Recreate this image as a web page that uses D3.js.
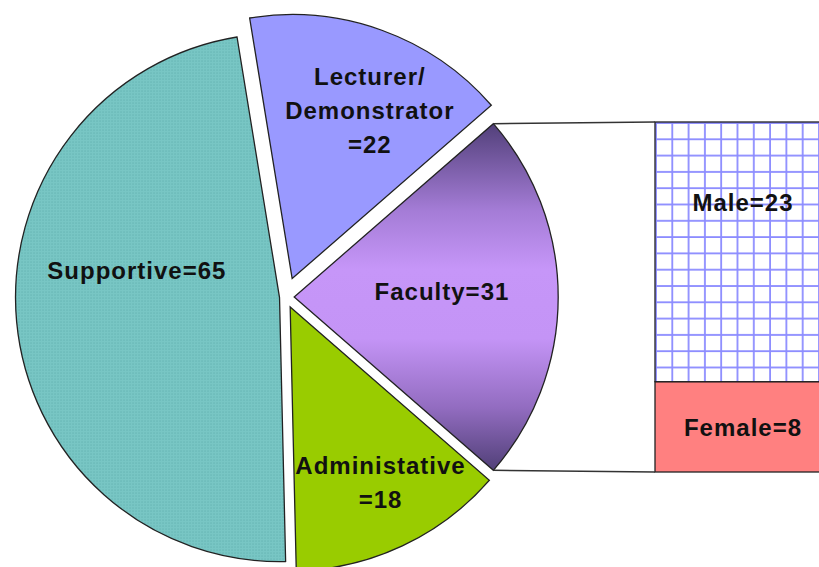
<!DOCTYPE html>
<html>
<head>
<meta charset="utf-8">
<script src="https://cdn.jsdelivr.net/npm/d3@7"></script>
<style>
  body { margin: 0; background: #fff; }
  svg { display: block; }
  .lbl { font-family: "Liberation Sans", Arial, sans-serif; font-weight: bold; font-size: 24px; letter-spacing: 1px; fill: #111; }
</style>
</head>
<body>
<svg class="chart"></svg>
<script>
// pie slices, clockwise starting with the split-out slice ("|" = line break in label)
var sliceNames = ["Faculty", "Administative|", "Supportive", "Lecturer/|Demonstrator|"];
var sliceValues = [31, 18, 65, 22];
// breakdown of the Faculty slice
var barNames = ["Female", "Male"];
var barValues = [8, 23];

var width = 819, height = 567;
var cx = 285.5, cy = 297, radius = 264;

var sliceFill = ["url(#facGrad)", "#99cc00", "url(#dots)", "#9999ff"];
var explode = [8.7, 11, 6, 19.6];
// label placement: fraction of radius, angle shift in degrees
var labelPos = [[0.56, -2], [0.75, -2], [0.55, 16], [0.70, 5]];

var svg = d3.select(".chart").attr("width", width).attr("height", height);
var defs = svg.append("defs");

var grad = defs.append("linearGradient").attr("id", "facGrad")
    .attr("x1", 0).attr("y1", 0).attr("x2", 0).attr("y2", 1);
[[0, "#52407a"], [0.25, "#a47cd6"], [0.42, "#c696f8"], [0.62, "#c494f6"], [0.82, "#926cc0"], [1, "#514078"]]
    .forEach(function(s) { grad.append("stop").attr("offset", s[0]).attr("stop-color", s[1]); });

var dots = defs.append("pattern").attr("id", "dots").attr("patternUnits", "userSpaceOnUse")
    .attr("width", 3).attr("height", 3);
dots.append("rect").attr("width", 3).attr("height", 3).attr("fill", "#78c6c4");
dots.append("rect").attr("width", 1).attr("height", 1).attr("fill", "#5aa9a8");

var facTotal = d3.sum(sliceValues);
var facAngle = sliceValues[0] / facTotal * 2 * Math.PI;
var startA = Math.PI / 2 - facAngle / 2;

var pie = d3.pie().sort(null).startAngle(startA).endAngle(startA + 2 * Math.PI);
var arcs = pie(sliceValues);
var arc = d3.arc().innerRadius(0).outerRadius(radius);

function apex(d, i) {
    var mid = (d.startAngle + d.endAngle) / 2;
    return [cx + explode[i] * Math.sin(mid), cy - explode[i] * Math.cos(mid)];
}

var slices = svg.append("g").selectAll("g").data(arcs).enter().append("g")
    .attr("transform", function(d, i) { return "translate(" + apex(d, i) + ")"; });

slices.append("path")
    .attr("d", arc)
    .attr("fill", function(d, i) { return sliceFill[i]; })
    .attr("stroke", "#222")
    .attr("stroke-width", 1.3);

slices.each(function(d, i) {
    var mid = (d.startAngle + d.endAngle) / 2 + labelPos[i][1] * Math.PI / 180;
    var r = labelPos[i][0] * radius;
    var lines = (sliceNames[i] + "=" + sliceValues[i]).split("|");
    var t = d3.select(this).append("text").attr("class", "lbl")
        .attr("text-anchor", "middle")
        .attr("transform", "translate(" + (r * Math.sin(mid)) + "," + (-r * Math.cos(mid)) + ")");
    lines.forEach(function(l, j) {
        t.append("tspan").attr("x", 0)
            .attr("y", (j - (lines.length - 1) / 2) * 34 + 8)
            .text(l);
    });
});

// bar of the Faculty slice
var barX = 655, barW = 180;
var y = d3.scaleLinear().domain([0, d3.sum(barValues)]).range([472, 122]);

var grid = defs.append("pattern").attr("id", "grid").attr("patternUnits", "userSpaceOnUse")
    .attr("x", barX).attr("y", 122).attr("width", 16.3).attr("height", 16.3);
grid.append("rect").attr("width", 16.3).attr("height", 16.3).attr("fill", "#fff");
grid.append("line").attr("x1", 1).attr("x2", 1).attr("y1", 0).attr("y2", 16.3)
    .attr("stroke", "#8c8cff").attr("stroke-width", 1.8);
grid.append("line").attr("y1", 1).attr("y2", 1).attr("x1", 0).attr("x2", 16.3)
    .attr("stroke", "#8c8cff").attr("stroke-width", 1.8);

var barFill = ["#ff8080", "url(#grid)"];
var stack = [];
var acc = 0;
barValues.forEach(function(v, i) { stack.push({name: barNames[i], value: v, y0: acc, y1: acc + v}); acc += v; });

var bars = svg.append("g");
bars.selectAll("rect").data(stack).enter().append("rect")
    .attr("x", barX).attr("width", barW)
    .attr("y", function(d) { return y(d.y1); })
    .attr("height", function(d) { return y(d.y0) - y(d.y1); })
    .attr("fill", function(d, i) { return barFill[i]; })
    .attr("stroke", "#222").attr("stroke-width", 1.3);

bars.selectAll("text").data(stack).enter().append("text").attr("class", "lbl")
    .attr("text-anchor", "middle")
    .attr("x", barX + barW / 2 - 2)
    .attr("y", function(d) { return d.name === "Male" ? y(d.y1) + 89 : (y(d.y0) + y(d.y1)) / 2 + 9; })
    .text(function(d) { return d.name + "=" + d.value; });

// connector lines from the Faculty slice tips to the bar
var fa = arcs[0], fp = apex(fa, 0);
var tips = [fa.startAngle, fa.endAngle].map(function(a) {
    return [fp[0] + radius * Math.sin(a), fp[1] - radius * Math.cos(a)];
});
svg.append("g").selectAll("line").data([[tips[0], y(d3.sum(barValues))], [tips[1], y(0)]]).enter()
    .append("line")
    .attr("x1", function(d) { return d[0][0]; })
    .attr("y1", function(d) { return d[0][1]; })
    .attr("x2", barX).attr("y2", function(d) { return d[1]; })
    .attr("stroke", "#333").attr("stroke-width", 1.5);
</script>
</body>
</html>
